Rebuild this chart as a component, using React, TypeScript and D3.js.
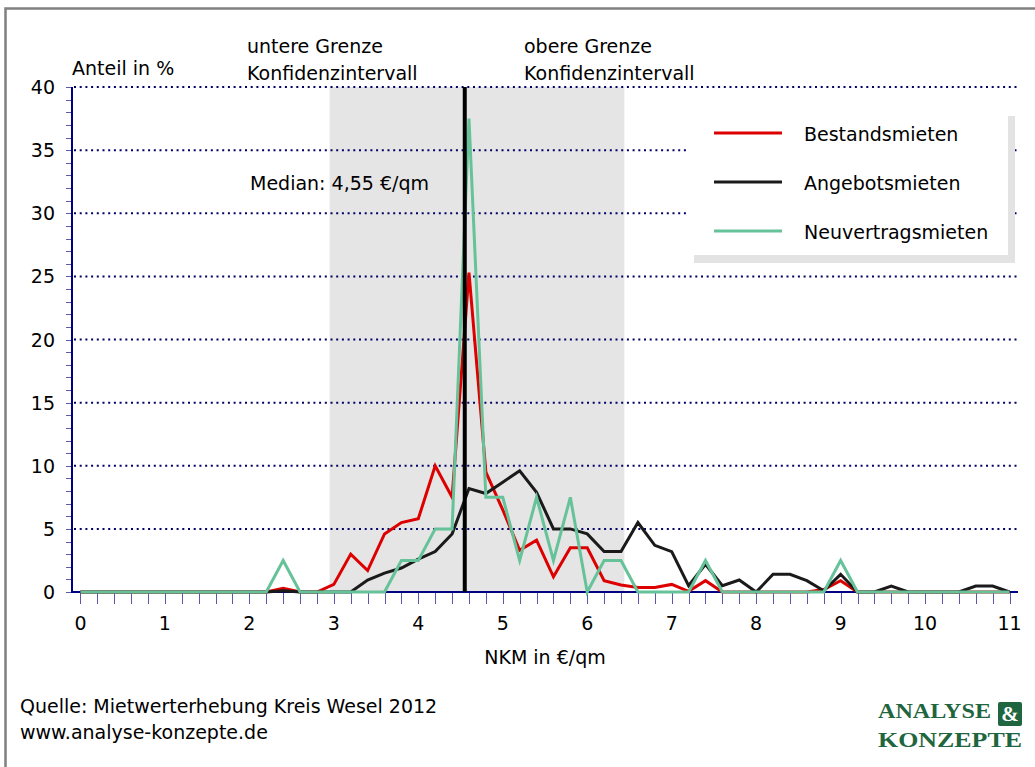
import React from "react";
import * as d3 from "d3";

// x categories: NKM in €/qm, step 0.2 from 0 to 11
const xValues: number[] = d3.range(0, 56).map((i) => +(i * 0.2).toFixed(1));

const bestandsmieten: number[] = [
  0, 0, 0, 0, 0, 0, 0, 0, 0, 0, 0, 0,
  0.3, 0, 0, 0.6, 3.0, 1.7, 4.6, 5.5, 5.8, 10.0, 7.5, 25.3,
  9.5, 6.5, 3.3, 4.1, 1.2, 3.5, 3.5, 0.9, 0.55, 0.35, 0.35, 0.6,
  0.05, 0.9, 0, 0, 0, 0, 0, 0, 0.2, 0.9, 0, 0,
  0, 0, 0, 0, 0, 0, 0, 0,
];

const angebotsmieten: number[] = [
  0, 0, 0, 0, 0, 0, 0, 0, 0, 0, 0, 0,
  0.1, 0, 0, 0, 0, 0.95, 1.5, 1.9, 2.6, 3.2, 4.6, 8.2,
  7.8, 8.7, 9.6, 7.9, 5.0, 5.0, 4.6, 3.2, 3.2, 5.5, 3.7, 3.2,
  0.5, 2.2, 0.5, 0.95, 0, 1.4, 1.4, 0.9, 0.1, 1.4, 0, 0,
  0.47, 0, 0, 0, 0, 0.47, 0.47, 0,
];

const neuvertragsmieten: number[] = [
  0, 0, 0, 0, 0, 0, 0, 0, 0, 0, 0, 0,
  2.5, 0, 0, 0, 0, 0, 0, 2.5, 2.5, 5, 5, 37.5,
  7.5, 7.5, 2.5, 7.5, 2.5, 7.5, 0, 2.5, 2.5, 0, 0, 0,
  0, 2.5, 0, 0, 0, 0, 0, 0, 0, 2.5, 0, 0,
  0, 0, 0, 0, 0, 0, 0, 0,
];

const seriesNames: string[] = ["Bestandsmieten", "Angebotsmieten", "Neuvertragsmieten"];
const seriesColors: string[] = ["#dd0000", "#1a1a1a", "#66c299"];
const yTickLabels: number[] = [0, 5, 10, 15, 20, 25, 30, 35, 40];
const xTickLabels: number[] = [0, 1, 2, 3, 4, 5, 6, 7, 8, 9, 10, 11];
const confidenceInterval: number[] = [2.95, 6.44];
const median = 4.55;

const FONT = "'DejaVu Sans', Verdana, sans-serif";

export default function App() {
  const W = 1035;
  const H = 767;
  const x = d3.scaleLinear().domain([-0.1, 11.1]).range([72, 1018]);
  const y = d3.scaleLinear().domain([0, 40]).range([592, 87]);

  const line = d3
    .line<number>()
    .x((_, i) => x(xValues[i]))
    .y((d) => y(d));

  const allSeries = [bestandsmieten, angebotsmieten, neuvertragsmieten];
  const drawOrder = [0, 1, 2];
  const navy = "#000080";

  return (
    <div style={{ position: "absolute", left: 0, top: 0 }}>
      <svg width={W} height={H} style={{ display: "block", background: "#fff" }}>
        {/* outer frame */}
        <rect x={5.5} y={8.5} width={1200} height={900} fill="none" stroke="#808080" strokeWidth={2.5} />

        {/* confidence band */}
        <rect
          x={x(confidenceInterval[0])}
          y={y(40)}
          width={x(confidenceInterval[1]) - x(confidenceInterval[0])}
          height={y(0) - y(40)}
          fill="#e5e5e5"
        />

        {/* gridlines */}
        {yTickLabels
          .filter((v) => v > 0)
          .map((v) => (
            <line
              key={"g" + v}
              x1={74}
              x2={1018}
              y1={y(v)}
              y2={y(v)}
              stroke="#000066"
              strokeWidth={2}
              strokeDasharray="2 3.7"
            />
          ))}

        {/* y minor ticks */}
        {d3.range(0, 41).map((v) => (
          <line
            key={"yt" + v}
            x1={66}
            x2={72}
            y1={Math.round(y(v)) + 0.5}
            y2={Math.round(y(v)) + 0.5}
            stroke={navy}
            strokeOpacity={0.65}
            strokeWidth={1}
          />
        ))}

        {/* x ticks */}
        {xValues.map((v, i) => (
          <line
            key={"xt" + i}
            x1={Math.round(x(v)) + 0.5}
            x2={Math.round(x(v)) + 0.5}
            y1={592}
            y2={604}
            stroke={navy}
            strokeOpacity={0.65}
            strokeWidth={1}
          />
        ))}

        {/* axes */}
        <line x1={72} x2={72} y1={y(40)} y2={y(0) + 1} stroke={navy} strokeWidth={2} />
        <line x1={71} x2={1018} y1={y(0)} y2={y(0)} stroke={navy} strokeWidth={2} />

        {/* series */}
        {drawOrder.map((si) => (
          <path
            key={"s" + si}
            d={line(allSeries[si]) || ""}
            fill="none"
            stroke={seriesColors[si]}
            strokeWidth={3}
            strokeLinejoin="miter"
            strokeMiterlimit={4}
          />
        ))}

        {/* median line */}
        <line x1={x(median)} x2={x(median)} y1={y(40)} y2={y(0)} stroke="#000" strokeWidth={4} />

        {/* y tick labels */}
        {yTickLabels.map((v) => (
          <text key={"yl" + v} x={55} y={y(v) + 7} textAnchor="end" fontFamily={FONT} fontSize={19} fill="#000">
            {v}
          </text>
        ))}

        {/* x tick labels */}
        {xTickLabels.map((v) => (
          <text key={"xl" + v} x={x(v)} y={630} textAnchor="middle" fontFamily={FONT} fontSize={19} fill="#000">
            {v}
          </text>
        ))}

        {/* axis titles */}
        <text x={72} y={75} fontFamily={FONT} fontSize={19} fill="#000">Anteil in %</text>
        <text x={x(5.5)} y={664} textAnchor="middle" fontFamily={FONT} fontSize={19} fill="#000">NKM in €/qm</text>

        {/* annotations */}
        <text x={247} y={53} fontFamily={FONT} fontSize={19} fill="#000">untere Grenze</text>
        <text x={247} y={80} fontFamily={FONT} fontSize={19} fill="#000">Konfidenzintervall</text>
        <text x={524} y={53} fontFamily={FONT} fontSize={19} fill="#000">obere Grenze</text>
        <text x={524} y={80} fontFamily={FONT} fontSize={19} fill="#000">Konfidenzintervall</text>
        <text x={250} y={190} fontFamily={FONT} fontSize={19} fill="#000">Median: 4,55 €/qm</text>

        {/* legend */}
        <rect x={694} y={116} width={321} height={147} fill="#e3e3e3" />
        <rect x={687} y={109} width={321} height={146} fill="#fff" />
        {seriesNames.map((name, i) => (
          <g key={"lg" + i}>
            <line x1={714} x2={782} y1={133 + i * 49} y2={133 + i * 49} stroke={seriesColors[i]} strokeWidth={3} />
            <text x={804} y={140.5 + i * 49} fontFamily={FONT} fontSize={19} fill="#000">
              {name}
            </text>
          </g>
        ))}

        {/* footer */}
        <text x={20} y={713} fontFamily={FONT} fontSize={19} fill="#000">Quelle: Mietwerterhebung Kreis Wesel 2012</text>
        <text x={20} y={739} fontFamily={FONT} fontSize={19} fill="#000">www.analyse-konzepte.de</text>

        {/* logo */}
        <text x={878} y={718} fontFamily="'Liberation Serif', 'DejaVu Serif', serif" fontWeight="bold" fontSize={22} fill="#1f6640" textLength={113} lengthAdjust="spacingAndGlyphs">ANALYSE</text>
        <rect x={998} y={702} width={24} height={24} rx={2} fill="#1f6640" />
        <text x={1010} y={721} textAnchor="middle" fontFamily="'Liberation Serif', 'DejaVu Serif', serif" fontWeight="bold" fontSize={21} fill="#fff">&amp;</text>
        <text x={878} y={747} fontFamily="'Liberation Serif', 'DejaVu Serif', serif" fontWeight="bold" fontSize={22} fill="#1f6640" textLength={144} lengthAdjust="spacingAndGlyphs">KONZEPTE</text>
      </svg>
    </div>
  );
}
